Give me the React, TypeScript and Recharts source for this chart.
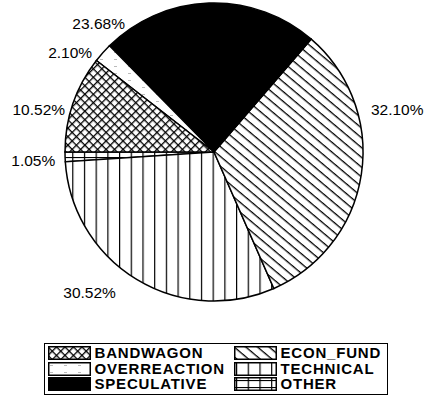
import React from "react";
import { PieChart, Pie, Cell, Legend } from "recharts";

// ---- data (pie order, counter-clockwise from 9 o'clock) ----
const categories = ["OTHER", "TECHNICAL", "ECON_FUND", "SPECULATIVE", "OVERREACTION", "BANDWAGON"];
const shares = [1.05, 30.52, 32.1, 23.68, 2.1, 10.52];
// legend order (two columns, read row by row)
const legendOrder = ["BANDWAGON", "ECON_FUND", "OVERREACTION", "TECHNICAL", "SPECULATIVE", "OTHER"];

// ---- styling / layout ----
const FILLS: Record<string, string> = {
  OTHER: "url(#pOther)",
  TECHNICAL: "url(#pTech)",
  ECON_FUND: "url(#pEcon)",
  SPECULATIVE: "#000",
  OVERREACTION: "url(#pOver)",
  BANDWAGON: "url(#pBand)",
};
// label placement: angle (deg) and gap beyond the rim, anchor
const LABEL_ANGLE = [183.2, 235, 15, 124.8, 140.9, 163.9];
const LABEL_GAP = [10, 22, 13.5, 7, 8, 6];
const LABEL_ANCHOR = ["end", "end", "start", "end", "end", "end"];

const data = categories.map((name, i) => ({ name, value: shares[i] }));

const RAD = Math.PI / 180;

const renderLabel = (props: any) => {
  const { cx, cy, outerRadius, index, value } = props;
  const a = LABEL_ANGLE[index] * RAD;
  const R = outerRadius + LABEL_GAP[index];
  const x = cx + R * Math.cos(a);
  const y = cy - R * Math.sin(a);
  return (
    <text
      x={x}
      y={y}
      textAnchor={LABEL_ANCHOR[index] as any}
      dominantBaseline="central"
      fontFamily="'Liberation Sans', Arial, sans-serif"
      fontSize={15.5}
      fill="#000"
    >
      {Number(value).toFixed(2)}%
    </text>
  );
};

const Patterns = () => (
  <svg width={0} height={0} style={{ position: "absolute" }}>
    <defs>
      <pattern id="pBand" width={6} height={6} patternUnits="userSpaceOnUse" patternTransform="rotate(45)">
        <rect width={6} height={6} fill="#fff" />
        <rect x={0} y={0} width={6} height={1.3} fill="#000" />
        <rect x={0} y={0} width={1.3} height={6} fill="#000" />
      </pattern>
      <pattern id="pEcon" width={7.5} height={7.5} patternUnits="userSpaceOnUse" patternTransform="rotate(40)">
        <rect width={7.5} height={7.5} fill="#fff" />
        <rect x={0} y={0} width={7.5} height={1.3} fill="#000" />
      </pattern>
      <pattern id="pTech" x={2} width={11.7} height={10} patternUnits="userSpaceOnUse">
        <rect width={11.7} height={10} fill="#fff" />
        <rect x={0} y={0} width={1.2} height={10} fill="#000" />
      </pattern>
      <pattern id="pOther" x={2} width={11.7} height={7} patternUnits="userSpaceOnUse">
        <rect width={11.7} height={7} fill="#fff" />
        <rect x={0} y={0} width={1.2} height={7} fill="#000" />
        <rect x={0} y={3} width={11.7} height={1.1} fill="#000" />
      </pattern>
      <pattern id="pOver" width={14} height={7} patternUnits="userSpaceOnUse">
        <rect width={14} height={7} fill="#fff" />
        <rect x={2} y={3} width={3} height={0.8} fill="#aaa" />
      </pattern>
    </defs>
  </svg>
);

const Swatch = ({ fill }: { fill: string }) => (
  <svg width={43} height={14} style={{ display: "block" }}>
    <rect x={0.75} y={0.75} width={41.5} height={12.5} fill={fill} stroke="#000" strokeWidth={1.5} />
  </svg>
);

const LegendBox = () => (
  <div
    style={{
      width: 344,
      height: 52,
      boxSizing: "border-box",
      border: "1.5px solid #000",
      background: "#fff",
      position: "relative",
      fontFamily: "'Liberation Sans', Arial, sans-serif",
      fontWeight: "bold",
      fontSize: 15,
      letterSpacing: 0.8,
      color: "#000",
    }}
  >
    {legendOrder.map((name, i) => {
      const col = i % 2;
      const row = Math.floor(i / 2);
      const left = col === 0 ? 2.5 : 188.5;
      const top = 2 + row * 15.5;
      return (
        <div key={name} style={{ position: "absolute", left, top, display: "flex", alignItems: "center", height: 14 }}>
          <Swatch fill={FILLS[name]} />
          <span style={{ marginLeft: 4, lineHeight: "14px", whiteSpace: "nowrap" }}>{name}</span>
        </div>
      );
    })}
  </div>
);

export default function App() {
  return (
    <div style={{ position: "absolute", left: 0, top: 0, width: 425, height: 408, background: "#fff" }}>
      <Patterns />
      <PieChart width={425} height={408} margin={{ top: 0, right: 0, bottom: 0, left: 0 }}>
        <Pie
          data={data}
          dataKey="value"
          nameKey="name"
          cx={214}
          cy={152}
          outerRadius={149}
          startAngle={180}
          endAngle={540}
          stroke="#000"
          strokeWidth={1.5}
          label={renderLabel}
          labelLine={false}
          isAnimationActive={false}
        >
          {data.map((d) => (
            <Cell key={d.name} fill={FILLS[d.name]} />
          ))}
        </Pie>
        <Legend
          content={() => <LegendBox />}
          wrapperStyle={{ position: "absolute", left: 44, top: 343, width: 344, height: 52 }}
        />
      </PieChart>
    </div>
  );
}
